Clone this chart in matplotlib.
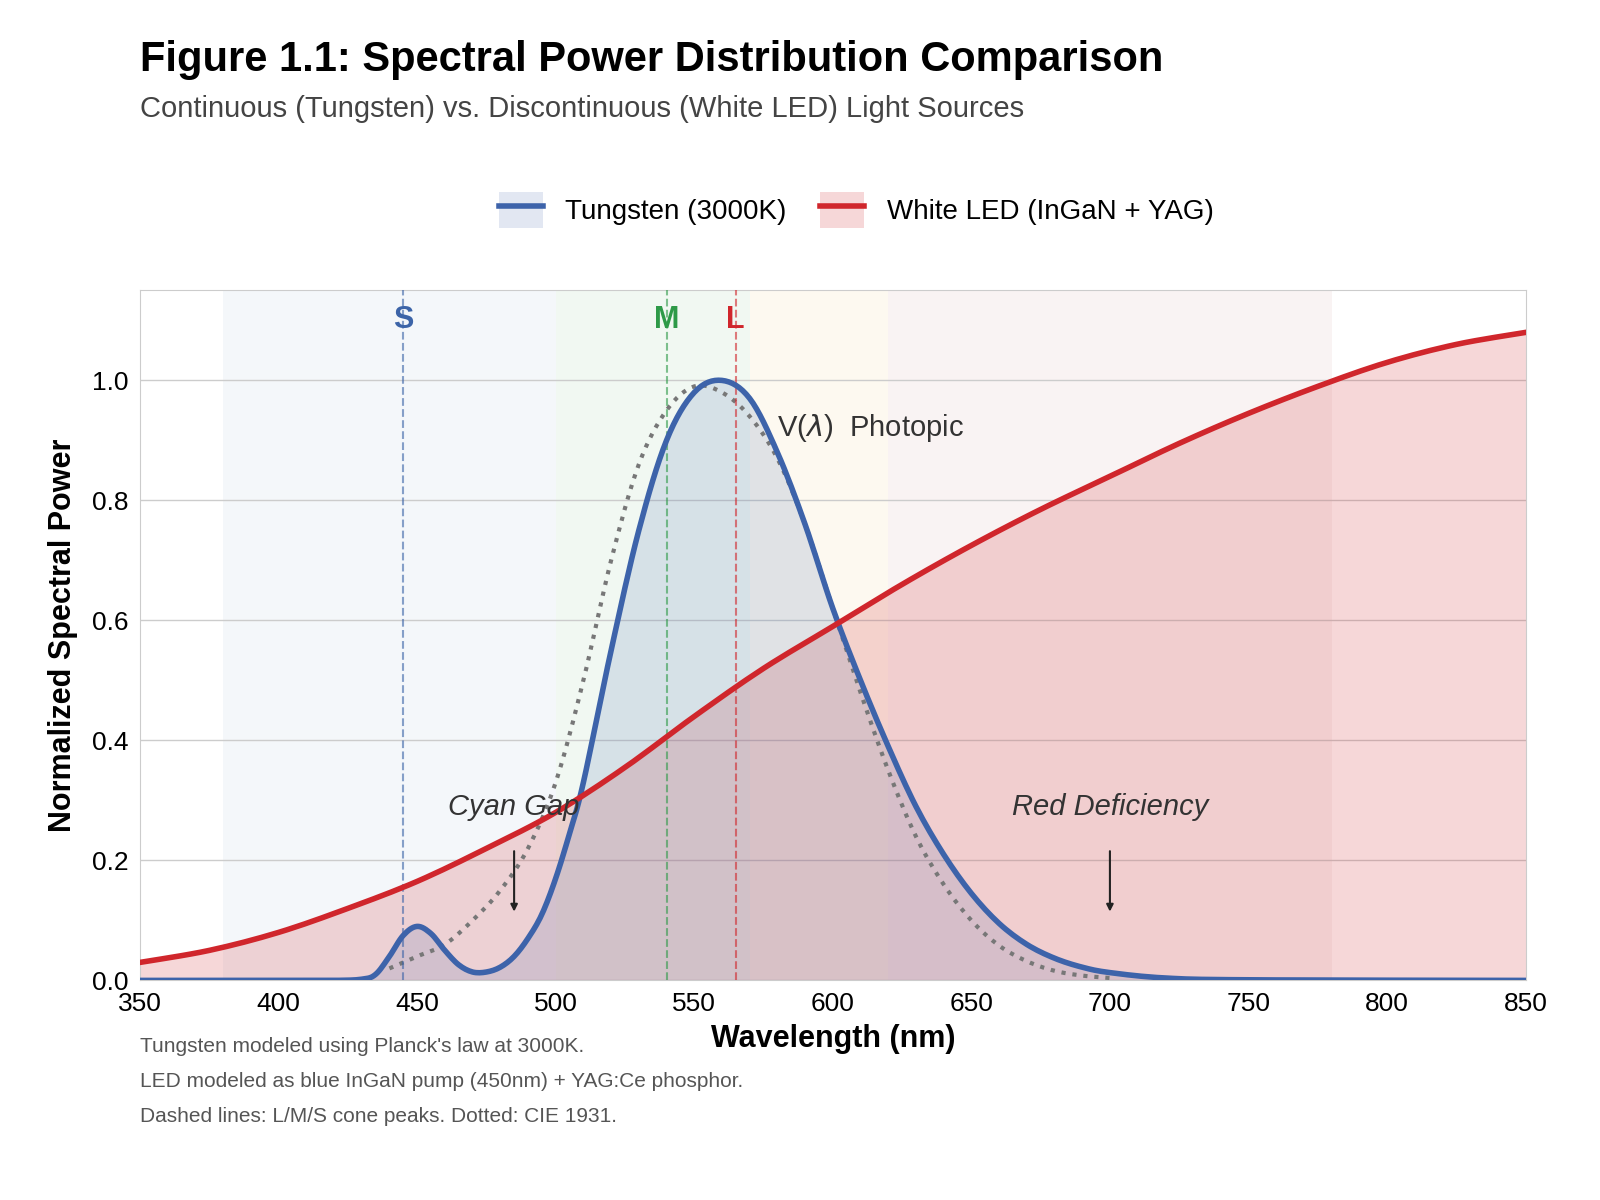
import numpy as np
import matplotlib
matplotlib.use("Agg")
import matplotlib.pyplot as plt
from matplotlib.patches import Patch
from matplotlib.lines import Line2D

plt.rcParams['font.family'] = ['Liberation Sans', 'DejaVu Sans']

# blue curve (legend: Tungsten)
tung_wl = [350, 400, 420, 430, 435, 440, 445, 450, 455, 460, 465, 470, 475, 480, 485, 490, 495,
           500, 505, 510, 520, 530, 540, 550, 560, 570, 580, 590, 600, 610, 620, 630, 640,
           650, 660, 670, 680, 690, 700, 720, 750, 850]
tung_val = [0, 0, 0, 0.002, 0.01, 0.04, 0.075, 0.09, 0.078, 0.05, 0.026, 0.014, 0.014, 0.022, 0.04,
            0.07, 0.11, 0.17, 0.245, 0.33, 0.55, 0.75, 0.9, 0.98, 1.0, 0.97, 0.88, 0.76, 0.62,
            0.5, 0.39, 0.29, 0.21, 0.145, 0.095, 0.06, 0.037, 0.022, 0.013, 0.004, 0.001, 0.0]

# red curve (legend: White LED)
led_wl = [350, 375, 400, 425, 450, 475, 500, 525, 550, 575, 600, 625, 650, 675, 700, 725,
          750, 775, 800, 825, 850]
led_val = [0.03, 0.05, 0.08, 0.12, 0.165, 0.22, 0.28, 0.355, 0.44, 0.52, 0.59, 0.66, 0.725,
           0.785, 0.84, 0.895, 0.945, 0.99, 1.03, 1.06, 1.08]

# CIE 1931 photopic V(lambda)
v_wl = [440, 450, 460, 470, 480, 490, 500, 510, 520, 530, 540, 550, 560, 570, 580, 590, 600,
        610, 620, 630, 640, 650, 660, 670, 680, 690, 700]
v_val = [0.02, 0.04, 0.06, 0.1, 0.15, 0.22, 0.33, 0.5, 0.7, 0.86, 0.95, 0.99, 0.98, 0.94,
         0.87, 0.76, 0.62, 0.48, 0.35, 0.24, 0.16, 0.1, 0.058, 0.032, 0.016, 0.008, 0.004]

bands = [(380, 500, '#eef2f7'), (500, 570, '#e8f4ea'), (570, 620, '#fcf5e6'), (620, 780, '#f5ecec')]
cones = [(445, 'S', '#3c64a8'), (540, 'M', '#2e9a48'), (565, 'L', '#d0262c')]

blue = '#3d63aa'
red = '#d0262c'


def smooth(x, y, n=8):
    # Catmull-Rom densification so the lines render as curves
    x = np.asarray(x, float)
    y = np.asarray(y, float)
    xs, ys = [], []
    for i in range(len(x) - 1):
        i0, i3 = max(i - 1, 0), min(i + 2, len(x) - 1)
        t = np.linspace(0, 1, n, endpoint=False)
        for arr, out in ((x, xs), (y, ys)):
            p0, p1, p2, p3 = arr[i0], arr[i], arr[i + 1], arr[i3]
            out.extend(0.5 * (2 * p1 + (-p0 + p2) * t + (2 * p0 - 5 * p1 + 4 * p2 - p3) * t ** 2
                              + (-p0 + 3 * p1 - 3 * p2 + p3) * t ** 3))
    xs.append(x[-1])
    ys.append(y[-1])
    return np.array(xs), np.clip(np.array(ys), 0, None)


tx, ty = smooth(tung_wl, tung_val)
lx, ly = smooth(led_wl, led_val)
vx, vy = smooth(v_wl, v_val)

fig = plt.figure(figsize=(16, 12), dpi=100)
ax = fig.add_axes([0.0875, 0.183, 0.866, 0.575])

for lo, hi, c in bands:
    ax.axvspan(lo, hi, color=c, alpha=0.6, lw=0, zorder=0)
ax.grid(axis='y', color='#cccccc', lw=1, zorder=1)

ax.fill_between(lx, ly, color=red, alpha=0.18, lw=0, zorder=2)
ax.fill_between(tx, ty, color=blue, alpha=0.15, lw=0, zorder=2)
ax.plot(vx, vy, ls=':', color='#777777', lw=3, zorder=3)
ax.plot(tx, ty, color=blue, lw=4, zorder=4)
ax.plot(lx, ly, color=red, lw=4, zorder=5)

for x, lab, c in cones:
    ax.axvline(x, color=c, ls='--', lw=1.5, alpha=0.6, zorder=3)
    ax.text(x, 1.10, lab, color=c, fontsize=22, fontweight='bold', ha='center', va='center')

ax.text(580, 0.92, r'V($\lambda$)  Photopic', fontsize=21, color='#333333', va='center')
ax.text(485, 0.275, 'Cyan Gap', fontsize=21, style='italic', color='#333333', ha='center', zorder=6)
ax.annotate('', xy=(485, 0.11), xytext=(485, 0.22),
            arrowprops=dict(arrowstyle='-|>', color='#222222', lw=1.5))
ax.text(700, 0.275, 'Red Deficiency', fontsize=21, style='italic', color='#333333', ha='center')
ax.annotate('', xy=(700, 0.11), xytext=(700, 0.22),
            arrowprops=dict(arrowstyle='-|>', color='#222222', lw=1.5))

ax.set_xlim(350, 850)
ax.set_ylim(0, 1.15)
ax.set_xticks(range(350, 851, 50))
ax.set_yticks(np.arange(0, 1.01, 0.2))
ax.set_yticklabels([f'{v:.1f}' for v in np.arange(0, 1.01, 0.2)])
ax.tick_params(labelsize=19, length=0, pad=8)
for s in ax.spines.values():
    s.set_color('#cccccc')
ax.set_xlabel('Wavelength (nm)', fontsize=22, fontweight='bold', labelpad=6)
ax.set_ylabel('Normalized Spectral Power', fontsize=22, fontweight='bold', labelpad=10)

handles = [(Patch(color=blue, alpha=0.15, lw=0), Line2D([], [], color=blue, lw=4)),
           (Patch(color=red, alpha=0.18, lw=0), Line2D([], [], color=red, lw=4))]
fig.legend(handles, ['Tungsten (3000K)', 'White LED (InGaN + YAG)'], loc='center',
           bbox_to_anchor=(0.535, 0.825), ncol=2, frameon=False, fontsize=20,
           handlelength=1.6, handleheight=1.6, columnspacing=1.2)

fig.text(0.0875, 0.95, 'Figure 1.1: Spectral Power Distribution Comparison', fontsize=30,
         fontweight='bold', va='center')
fig.text(0.0875, 0.909, 'Continuous (Tungsten) vs. Discontinuous (White LED) Light Sources',
         fontsize=21, color='#444444', va='center')
notes = ["Tungsten modeled using Planck's law at 3000K.",
         "LED modeled as blue InGaN pump (450nm) + YAG:Ce phosphor.",
         "Dashed lines: L/M/S cone peaks. Dotted: CIE 1931."]
for i, n in enumerate(notes):
    fig.text(0.0875, 0.128 - i * 0.029, n, fontsize=15, color='#555555', va='center')

fig.savefig('out.png', dpi=100)
